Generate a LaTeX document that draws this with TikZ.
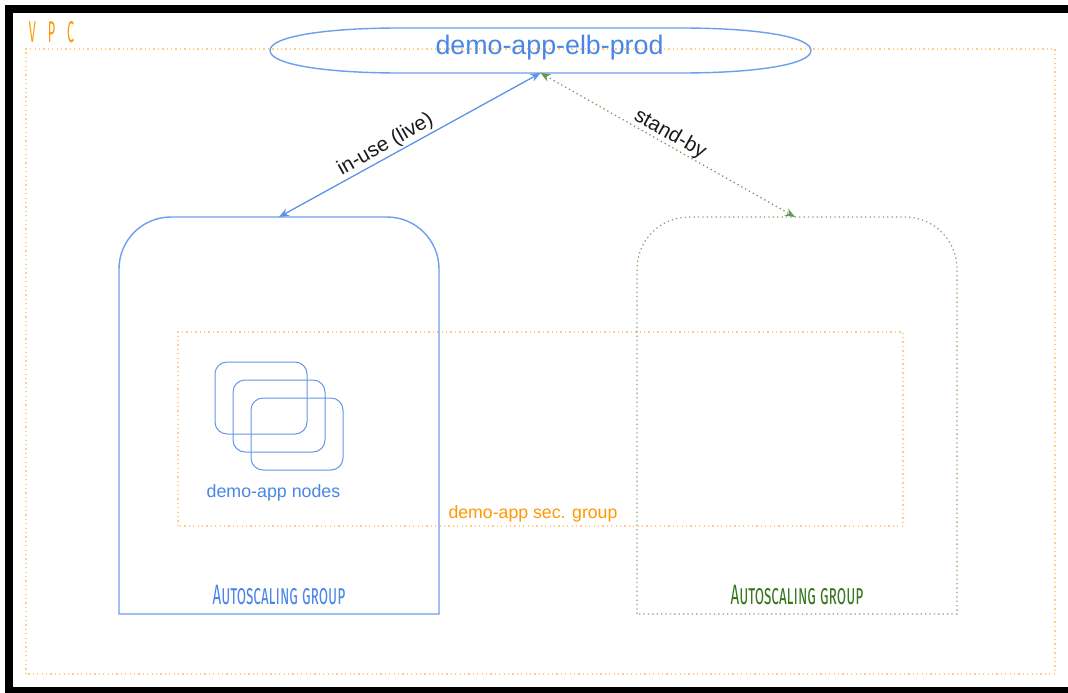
\documentclass[tikz,border=0pt]{standalone}
\usepackage{fontspec}
\usetikzlibrary{arrows.meta}
\setmainfont{Liberation Sans}
\newfontfamily\handfont[FakeStretch=0.54,Letters=SmallCaps]{Fira Sans}
\newfontfamily\handcaps[FakeStretch=0.42]{Fira Sans}
\definecolor{gblue}{HTML}{4A86E8}
\definecolor{ggreen}{HTML}{38761D}
\definecolor{gorange}{HTML}{FF9900}
\tikzset{
  px/.style={inner sep=0pt,outer sep=0pt},
  anchorbox/.style={px,draw=none,rectangle},
  orangedots/.style={draw=gorange!50,line width=1.3pt,dash pattern=on 1.3pt off 3.1pt},
  greendots/.style={draw=ggreen!65,line width=1.2pt,dash pattern=on 1.3pt off 3.1pt},
  bluebox/.style={draw=gblue!80,line width=1.4pt},
  nodebox/.style={px,draw=gblue!85,line width=1pt,rounded corners=12pt,minimum width=92pt,minimum height=72pt},
  both/.style={{Stealth[length=10pt,width=8pt]}-{Stealth[length=10pt,width=8pt]}},
  label/.style={px,font=\fontsize{20.6}{23}\selectfont,text=black!90},
  handlabel/.style={px,font=\fontsize{28}{30}\handfont},
}
\begin{document}
\begin{tikzpicture}[x=1pt,y=-1pt]
\useasboundingbox (0,0) rectangle (1068,693);
\fill[white] (0,0) rectangle (1068,693);
% black frame
\fill[black] (5,5) rectangle (1068,13);
\fill[black] (5,5) rectangle (13,693);
\fill[black] (5,687) rectangle (1068,693);
% VPC
\node[anchorbox,minimum width=1029pt,minimum height=625pt] (vpc) at (540.5,361.5) {};
\draw[orangedots] (vpc.south west) rectangle (vpc.north east);
\node[px,text=gorange,font=\fontsize{30}{32}\handcaps] (vpclabel) at (51.5,32.5) {V\hspace{12pt}P\hspace{12pt}C};
% security group
\node[anchorbox,minimum width=725pt,minimum height=194pt] (sec) at (540.5,429) {};
\draw[orangedots] (sec.south west) rectangle (sec.north east);
% autoscaling groups
\node[anchorbox,minimum width=320pt,minimum height=397pt] (asgblue) at (279,415.5) {};
\draw[bluebox] (asgblue.south west) [rounded corners=52pt] -- (asgblue.north west) -- (asgblue.north east) [sharp corners] -- (asgblue.south east) -- cycle;
\node[anchorbox,minimum width=320pt,minimum height=397pt] (asggreen) at (797,415.5) {};
\draw[greendots] (asggreen.south west) [rounded corners=52pt] -- (asggreen.north west) -- (asggreen.north east) [sharp corners] -- (asggreen.south east) -- cycle;
\node[handlabel,text=gblue] (asgbluelabel) at (279,595) {Autoscaling group};
\node[handlabel,text=ggreen] (asggreenlabel) at (797,595) {Autoscaling group};
% ELB
\node[anchorbox,minimum width=541pt,minimum height=45pt] (elb) at (540.5,50.5) {};
\draw[bluebox] (elb.west)
  .. controls ([yshift=14pt]elb.west) and ([xshift=55pt]elb.north west) .. ([xshift=130pt]elb.north west)
  -- ([xshift=-130pt]elb.north east)
  .. controls ([xshift=-55pt]elb.north east) and ([yshift=14pt]elb.east) .. (elb.east)
  .. controls ([yshift=-14pt]elb.east) and ([xshift=-55pt]elb.south east) .. ([xshift=-130pt]elb.south east)
  -- ([xshift=130pt]elb.south west)
  .. controls ([xshift=55pt]elb.south west) and ([yshift=-14pt]elb.west) .. (elb.west) -- cycle;
\node[px,text=gblue,font=\fontsize{26.8}{29}\selectfont] (elblabel) at (549.5,47.5) {demo-app-elb-prod};
% nodes
\node[nodebox] (n1) at (261,398) {};
\node[nodebox] (n2) at (279,416) {};
\node[nodebox] (n3) at (297,434) {};
\node[px,text=gblue,font=\fontsize{17.8}{20}\selectfont] (nodeslabel) at (273.5,493) {demo-app nodes};
\node[px,text=gorange,font=\fontsize{17.7}{20}\selectfont] (seclabel) at (533,513.5) {demo-app sec. group};
% connectors
\draw[both,draw=gblue!90,line width=1.3pt] (elb.south) -- (asgblue.north);
\draw[both,draw=ggreen!75,line width=1.2pt,dash pattern=on 1.3pt off 3.1pt] (elb.south) -- ([xshift=-2pt]asggreen.north);
\node[label,rotate=29.5] (inuse) at (385.5,145) {in-use (live)};
\node[label,rotate=-29.5] (standby) at (670,134.5) {stand-by};
\end{tikzpicture}
\end{document}
